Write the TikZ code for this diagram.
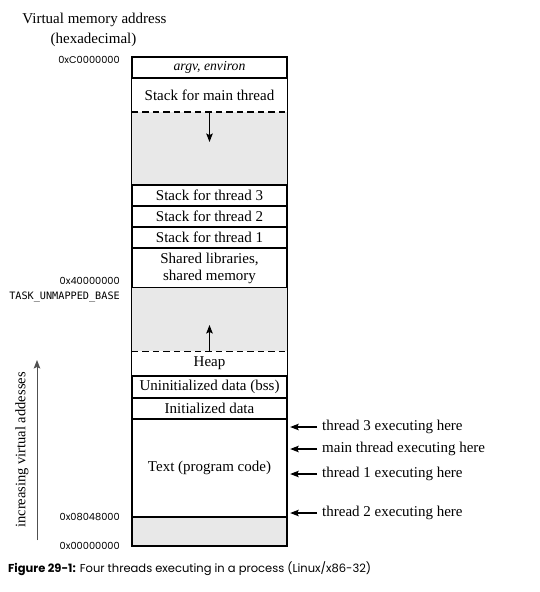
\documentclass[tikz,border=0pt]{standalone}
\usepackage{fontspec}
\setmainfont{Liberation Serif}
\newfontfamily\capfont{Poppins}
\newfontfamily\hexfont{Poppins}
\newfontfamily\monofont{DejaVu Sans Mono}
\usetikzlibrary{arrows.meta}
\definecolor{regiongray}{HTML}{E8E8E8}
\definecolor{axisgray}{HTML}{505050}
\begin{document}
\begin{tikzpicture}[x=1pt,y=-1pt,
  boxfont/.style={font=\fontsize{15}{17}\selectfont},
  seg/.style={draw=black, line width=1.4pt, minimum width=155pt, inner sep=0pt, boxfont, align=center},
  plainseg/.style={minimum width=155pt, inner sep=0pt, boxfont, align=center},
  hole/.style={fill=regiongray, minimum width=155pt, inner sep=0pt},
  frame/.style={draw=black, line width=1.4pt},
  dashline/.style={draw=black, line width=1.4pt, dash pattern=on 6.5pt off 4pt},
  ptr/.style={line width=1.2pt, -{Stealth[length=8.5pt,width=6.5pt,inset=1.5pt]}},
  hexlabel/.style={anchor=east, inner sep=0pt, font=\hexfont\fontsize{9.8}{11}\selectfont},
  monolabel/.style={anchor=east, inner sep=0pt, font=\monofont\fontsize{10.2}{12}\selectfont},
  threadlabel/.style={anchor=west, inner xsep=5pt, inner ysep=0pt, boxfont},
  toplabel/.style={inner sep=0pt, boxfont}
]
\useasboundingbox (0,0) rectangle (540,592);

% memory regions
\node[seg, minimum height=21pt] (argv) at (209.5,67.5) {\fontsize{13.7}{15}\selectfont\textit{argv, environ}};
\node[plainseg, minimum height=34pt] (mainstack) at (209.5,95) {Stack for main thread};
\node[hole, minimum height=73pt] (freeA) at (209.5,148.5) {};
\node[seg, minimum height=21pt] (stack3) at (209.5,195.5) {Stack for thread 3};
\node[seg, minimum height=21pt] (stack2) at (209.5,216.5) {Stack for thread 2};
\node[seg, minimum height=21pt] (stack1) at (209.5,237.5) {Stack for thread 1};
\node[seg, minimum height=40pt] (shared) at (209.5,268) {Shared libraries,\\shared memory};
\node[hole, minimum height=63pt] (freeB) at (209.5,319.5) {};
\node[plainseg, minimum height=25pt] (heap) at (209.5,363.5) {Heap};
\node[seg, minimum height=22pt] (bss) at (209.5,387) {Uninitialized data (bss)};
\node[seg, minimum height=21pt] (init) at (209.5,408.5) {Initialized data};
\node[seg, minimum height=98pt] (text) at (209.5,468) {Text (program code)};
\node[seg, fill=regiongray, minimum height=29pt] (low) at (209.5,531.5) {};

\draw[frame] (argv.north west) rectangle (low.south east);
\draw[dashline] (freeA.north west) -- (freeA.north east);
\draw[dashline] (freeB.south west) -- (freeB.south east);

% growth arrows
\coordinate (downtip) at (209.5,142);
\coordinate (uptip) at (209.5,325);
\draw[ptr] (freeA.north) -- (downtip);
\draw[ptr] (freeB.south) -- (uptip);

% left labels
\node[toplabel] (vma) at (94.5,20) {Virtual memory address};
\node[toplabel] (hexa) at (93.5,40) {(hexadecimal)};
\node[hexlabel] (aC) at (120,60) {0xC0000000};
\node[hexlabel] (a4) at (120,281) {0x40000000};
\node[monolabel] (tub) at (120,296.5) {TASK\_UNMAPPED\_BASE};
\node[hexlabel] (a08) at (120,517) {0x08048000};
\node[hexlabel] (a00) at (120,546) {0x00000000};

% increasing addresses axis
\coordinate (axisbot) at (37,540);
\coordinate (axistop) at (37,360);
\draw[ptr, line width=1pt, draw=axisgray, fill=axisgray] (axisbot) -- (axistop);
\node[toplabel, rotate=90, font=\fontsize{14.5}{16}\selectfont] (incr) at (22,450) {increasing virtual addesses};

% thread pointers
\node[threadlabel] (t3) at (317,427) {thread 3 executing here};
\node[threadlabel] (tm) at (317,449) {main thread executing here};
\node[threadlabel] (t1) at (317,474) {thread 1 executing here};
\node[threadlabel] (t2) at (317,513) {thread 2 executing here};
\foreach \n in {t3,tm,t1,t2}
  \draw[ptr, shorten >=2.5pt] (\n.west) -- (\n.west -| text.east);

% caption
\node[anchor=west, inner sep=0pt, font=\capfont\fontsize{11.5}{13}\selectfont] (caption) at (8,569) {\textbf{Figure 29-1:} Four threads executing in a process (Linux/x86-32)};
\end{tikzpicture}
\end{document}
